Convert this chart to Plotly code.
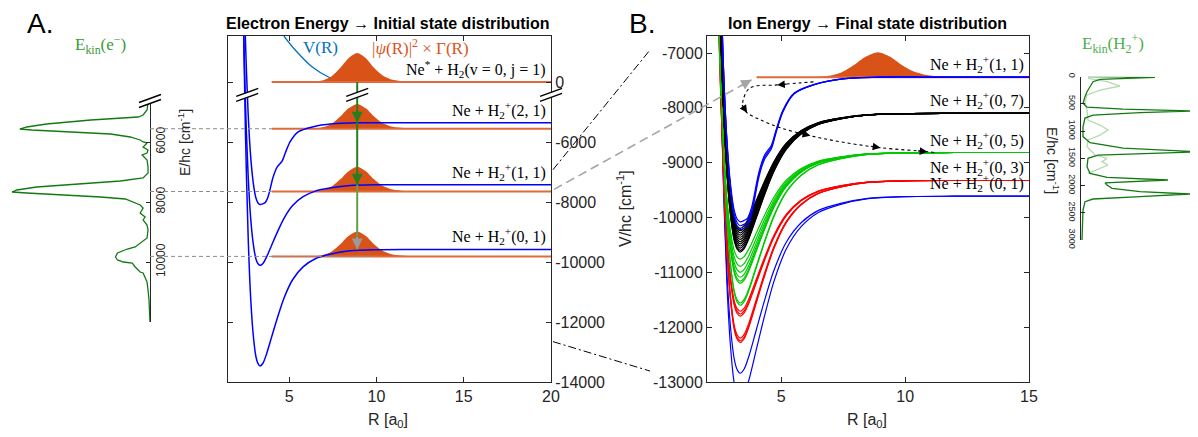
import plotly.graph_objects as go

W, H = 1198, 437
OX, OY = 8, 8                 # page body margin of the browser
FW, FH = W - OX, H - OY       # figure size actually drawn

# ------------------------------------------------------------------ data
# normalised potential-well profiles (R in a0, V/depth)
PROFILE_R_WIDE = [2.2, 2.35, 2.5, 2.65, 2.8, 2.95, 3.1, 3.22, 3.34, 3.5, 3.7, 4.0, 4.3, 4.7,
                  5.2, 5.8, 6.5, 7.4, 8.5, 10.0, 12.0, 20.0]
PROFILE_WIDE = [4.34, 2.35, 1.0, 0.13, -0.42, -0.74, -0.92, -0.98, -1.0, -0.976, -0.90, -0.75,
                -0.60, -0.42, -0.26, -0.15, -0.08, -0.04, -0.012, -0.002, 0.0, 0.0]
PROFILE_R_NARROW = [2.2, 2.35, 2.5, 2.65, 2.8, 2.95, 3.1, 3.22, 3.34, 3.5, 3.63, 3.8, 4.09, 4.32,
                    4.6, 4.78, 5.06, 5.52, 6.33, 7.48, 9.0, 12.0, 20.0]
PROFILE_NARROW = [4.34, 2.35, 1.0, 0.13, -0.42, -0.74, -0.92, -0.98, -1.0, -0.99, -0.975, -0.90,
                  -0.66, -0.54, -0.47, -0.37, -0.23, -0.11, -0.05, -0.012, 0.0, 0.0, 0.0]

# |psi(R)|^2 x Gamma(R) profile (fraction of peak)
GAUSS_R = [4.0, 6.0, 6.6, 7.0, 7.4, 7.95, 8.4, 8.9, 9.4, 9.85, 10.3, 10.8, 11.4, 12.2, 13.5, 20.0]
GAUSS_F = [0, 0, 0.02, 0.07, 0.18, 0.5, 0.82, 1.0, 0.82, 0.5, 0.25, 0.1, 0.035, 0.008, 0, 0]

# Panel A : electron energy -> initial state distribution (cm^-1)
A_NEUTRAL_LABEL = "Ne<sup>*</sup> + H<sub>2</sub>(v = 0, j = 1)"
A_ION_LABELS = ["Ne + H<sub>2</sub><sup>+</sup>(2, 1)", "Ne + H<sub>2</sub><sup>+</sup>(1, 1)",
                "Ne + H<sub>2</sub><sup>+</sup>(0, 1)"]
A_ION_ASYM = [-5333, -7400, -9567]
A_ION_MIN = [-8067, -10100, -13467]
A_ION_SHAPE = ["narrow", "wide", "wide"]
A_BASELINES = [0, -5530, -7630, -9800]
A_GAUSS_PEAK = [970, 830, 830, 830]
V_R = [4.7, 5.35, 6.33, 7.25, 7.82, 8.5, 10.0, 20.0]
V_E = [1540, 1070, 500, 170, 70, 0, 0, 0]
ARROW_R = 8.9
A_XTICKS = [5, 10, 15, 20]
A_YTICKS = [0, -6000, -8000, -10000, -12000, -14000]

# left spectrum: electron kinetic energy
EKIN_E = [4700, 4933, 5100, 5167, 5267, 5400, 5500, 5567, 5600, 5667, 5733, 5833, 5933, 6000,
          6033, 6167, 6267, 6367, 6433, 6600, 6833, 7033, 7200, 7300, 7400, 7500, 7600, 7667,
          7700, 7767, 7833, 7900, 8033, 8100, 8200, 8367, 8500, 8600, 8767, 8933, 9200, 9367,
          9500, 9567, 9700, 9833, 9933, 10000, 10033, 10167, 10333, 10367, 10667, 10933, 11267,
          12000]
EKIN_I = [2, 3, 7, 12, 60, 105, 125, 132, 120, 80, 40, 20, 10, 7, 3, 7, 2, 3, 8, 3, 2, 2, 7, 30,
          75, 115, 135, 140, 125, 85, 50, 25, 15, 10, 7, 10, 5, 7, 3, 2, 3, 10, 15, 23, 33, 35,
          33, 27, 18, 15, 10, 7, 3, 2, 1, 0]
EKIN_TICKS = [6000, 8000, 10000]

# right spectrum: H2+ kinetic energy
EH2_E = [0, 11, 48, 92, 184, 276, 367, 487, 560, 597, 630, 661, 704, 760, 920, 1100, 1212, 1312,
         1380, 1408, 1440, 1500, 1653, 1776, 1849, 1898, 1950, 1990, 2050, 2113, 2155, 2204,
         2247, 2296, 2450, 3000]
EH2_I = [7, 74, 19, 12, 9, 6, 4, 2, 6, 42, 112, 59, 12, 4, 2, 2, 9, 42, 116, 59, 17, 7, 6, 9, 26,
         87, 24, 26, 31, 59, 109, 59, 12, 4, 2, 1]
EH2L_E = [30, 92, 171, 245, 336, 459, 612, 796, 888, 980, 1072, 1163, 1286, 1439, 1500, 1561,
          1622, 1714, 1776]
EH2L_I = [7, 26, 39, 19, 6, 4, 6, 7, 19, 27, 19, 7, 6, 14, 26, 21, 27, 16, 7]
EH2_TICKS = [0, 500, 1000, 1500, 2000, 2500, 3000]

# Panel B : ion energy -> final state distribution
B_LABELS = ["Ne + H<sub>2</sub><sup>+</sup>(1, 1)", "Ne + H<sub>2</sub><sup>+</sup>(0, 7)",
            "Ne + H<sub>2</sub><sup>+</sup>(0, 5)", "Ne + H<sub>2</sub><sup>+</sup>(0, 3)",
            "Ne + H<sub>2</sub><sup>+</sup>(0, 1)"]
B_ASYM = [-7440, -8100, -8815, -9325, -9612]
B_COLORS = ["#0000FF", "#000000", "#00C800", "#FF0000", "#0000FF"]
B_SHAPE = ["narrow", "wide", "wide", "wide", "wide"]
B_MINIMA = [
    [-10080, -10150, -10220],
    [-10200, -10240, -10280, -10320, -10360, -10400, -10440, -10480, -10520, -10560, -10600, -10630],
    [-10760, -10890, -11000, -11090, -11160, -11200, -11560, -11600],
    [-11710, -11760, -11800, -12200, -12250, -12280],
    [-12840, -13320],
]
B_ORANGE = -7440
B_GAUSS_PEAK = 455
PATH_R = [6.3, 5.77, 4.83, 3.74, 3.46, 3.46, 3.62, 4.15, 4.96, 6.17, 7.38, 9.0, 10.9, 11.2]
PATH_E = [-7527, -7545, -7582, -7636, -7855, -7982, -8091, -8218, -8364, -8509, -8618, -8727,
          -8800, -8818]
PATH_ARROW_IDX = [2, 6, 9, 11, 12]
B_XTICKS = [5, 10, 15]
B_YTICKS = [-7000, -8000, -9000, -10000, -11000, -12000, -13000]


# ------------------------------------------------------------------ layout geometry
def PX(x):
    return (x - OX) / FW


def PY(y):
    return 1 - (y - OY) / FH


def SX(p):
    return p * FW + OX


def SY(p):
    return (1 - p) * FH + OY


A_ZERO_POS = -3970          # where the broken-axis "0" sits on panel A
XA = dict(domain=[PX(228), PX(551)], range=[1.5, 20])
YA = dict(domain=[PY(382), PY(36)], range=[-14000, -2430])
XB = dict(domain=[PX(707), PX(1029)], range=[2, 15])
YB = dict(domain=[PY(382), PY(36)], range=[-13000, -6690])
XL = dict(domain=[PX(10), PX(150)], range=[142, 0])
YL = dict(domain=[PY(322), PY(103)], range=[12000, 4700])
XR = dict(domain=[PX(1081), 1.0], range=[0, 117])
YR = dict(domain=[PY(240), PY(76.7)], range=[3000, 0])

ORANGE = "#D95319"
ORANGE_LINE = "#E06A3A"
DARK_GREEN = "#267F1A"
LIGHT_GREEN = "#62A043"
TXT = "#262626"
SERIF = "Liberation Serif"
SANS = "Liberation Sans"


def paper(ax, v):
    d, r = ax["domain"], ax["range"]
    return d[0] + (v - r[0]) / (r[1] - r[0]) * (d[1] - d[0])


def a_pos(e):
    return e + A_ZERO_POS if e > -3000 else e


PROFILES = {"wide": (PROFILE_R_WIDE, PROFILE_WIDE), "narrow": (PROFILE_R_NARROW, PROFILE_NARROW)}

fig = go.Figure()


def add(x, y, xa, ya, **kw):
    fig.add_trace(go.Scatter(x=x, y=y, xaxis=xa, yaxis=ya, mode="lines", hoverinfo="skip",
                             showlegend=False, **kw))


# ---------------- panel A
add(V_R, [a_pos(e) for e in V_E], "x", "y",
    line=dict(color="#0072BD", width=1.3, shape="spline", smoothing=0.8))
for base, peak in zip(A_BASELINES, A_GAUSS_PEAK):
    b = a_pos(base)
    add(GAUSS_R, [b + peak * f for f in GAUSS_F], "x", "y", fill="toself", fillcolor=ORANGE,
        line=dict(width=0, color=ORANGE, shape="spline", smoothing=0.7))
    add([4.0, 20.0], [b, b], "x", "y", line=dict(color=ORANGE_LINE, width=2))
for asym, mn, shp in zip(A_ION_ASYM, A_ION_MIN, A_ION_SHAPE):
    rr, pp = PROFILES[shp]
    add(rr, [asym + (asym - mn) * f for f in pp], "x", "y",
        line=dict(color="#0000FF", width=1.5, shape="spline", smoothing=0.8))
add([ARROW_R, ARROW_R], [a_pos(0), A_ION_ASYM[1]], "x", "y",
    line=dict(color=DARK_GREEN, width=2))
add([ARROW_R, ARROW_R], [A_ION_ASYM[1], A_ION_ASYM[2]], "x", "y",
    line=dict(color=LIGHT_GREEN, width=2))

# ---------------- panel B
add(GAUSS_R, [B_ORANGE + B_GAUSS_PEAK * f for f in GAUSS_F], "x2", "y2", fill="toself",
    fillcolor=ORANGE, line=dict(width=0, color=ORANGE, shape="spline", smoothing=0.7))
add([4.0, 15.0], [B_ORANGE, B_ORANGE], "x2", "y2", line=dict(color=ORANGE_LINE, width=2))
for i in [4, 3, 2, 1, 0]:
    rr, pp = PROFILES[B_SHAPE[i]]
    for mn in B_MINIMA[i]:
        add(rr, [B_ASYM[i] + (B_ASYM[i] - mn) * f for f in pp], "x2", "y2",
            line=dict(color=B_COLORS[i], width=1.2, shape="spline", smoothing=0.8))
add(PATH_R, PATH_E, "x2", "y2",
    line=dict(color="black", width=1.1, dash="dot", shape="spline", smoothing=1.0))

# ---------------- spectra
add(EKIN_I, EKIN_E, "x3", "y3", line=dict(color="#137A13", width=1.3))
add(EH2L_I, EH2L_E, "x4", "y4", line=dict(color="#B4DBAE", width=1.3))
add(EH2_I, EH2_E, "x4", "y4", line=dict(color="#137A13", width=1.3))

# ------------------------------------------------------------------ axes
common = dict(showgrid=False, zeroline=False, showline=True, linecolor=TXT, linewidth=1,
              ticks="inside", ticklen=5, tickcolor=TXT, automargin=False,
              tickfont=dict(family=SANS, size=16, color=TXT))
fig.update_layout(
    xaxis=dict(**common, domain=XA["domain"], range=XA["range"], anchor="y", mirror="ticks",
               tickvals=A_XTICKS),
    yaxis=dict(**common, domain=YA["domain"], range=YA["range"], anchor="x", side="right",
               mirror="ticks", tickvals=[a_pos(v) for v in A_YTICKS],
               ticktext=[str(v) for v in A_YTICKS]),
    xaxis2=dict(**common, domain=XB["domain"], range=XB["range"], anchor="y2", mirror="ticks",
                tickvals=B_XTICKS),
    yaxis2=dict(**common, domain=YB["domain"], range=YB["range"], anchor="x2", mirror="ticks",
                tickvals=B_YTICKS, ticktext=[str(v) for v in B_YTICKS]),
    xaxis3=dict(domain=XL["domain"], range=XL["range"], anchor="y3", visible=False),
    yaxis3=dict(showgrid=False, zeroline=False, showline=True, linecolor=TXT, linewidth=1,
                ticks="inside", ticklen=4, tickcolor=TXT, automargin=False,
                domain=YL["domain"], range=YL["range"], anchor="x3", side="right",
                tickvals=EKIN_TICKS, ticktext=[str(v) for v in EKIN_TICKS], tickangle=-90,
                tickfont=dict(family=SANS, size=12, color=TXT)),
    xaxis4=dict(domain=XR["domain"], range=XR["range"], anchor="y4", visible=False),
    yaxis4=dict(showgrid=False, zeroline=False, showline=True, linecolor=TXT, linewidth=1,
                ticks="inside", ticklen=4, tickcolor=TXT, automargin=False,
                domain=YR["domain"], range=YR["range"], anchor="x4", side="left",
                tickvals=EH2_TICKS, ticktext=[str(v) for v in EH2_TICKS], tickangle=90,
                tickfont=dict(family=SANS, size=9, color=TXT)),
)

# ------------------------------------------------------------------ shapes
shapes = []


def break_mark(cx, cy):
    pts = [(cx - 11, cy + 1.5), (cx + 11, cy - 6.5), (cx + 11, cy - 1.5), (cx - 11, cy + 6.5)]
    path = "M " + " L ".join(f"{PX(x):.5f},{PY(y):.5f}" for x, y in pts) + " Z"
    shapes.append(dict(type="path", path=path, xref="paper", yref="paper",
                       fillcolor="white", line=dict(width=0)))
    for (x0, y0), (x1, y1) in [(pts[0], pts[1]), (pts[3], pts[2])]:
        shapes.append(dict(type="line", xref="paper", yref="paper", x0=PX(x0), y0=PY(y0),
                           x1=PX(x1), y1=PY(y1), line=dict(color="black", width=1.4)))


def to_px(xa, xv, ya, yv):
    return SX(paper(xa, xv)), SY(paper(ya, yv))


brk_y = -4400
for xv in [2.6, ARROW_R, 20]:
    break_mark(*to_px(XA, xv, YA, brk_y))
break_mark(150, 101)

# dashed connectors spectrum -> levels
for base, xend in zip(A_BASELINES[1:], [4.0, 4.0, 9.7]):
    shapes.append(dict(type="line", xref="paper", yref="y", x0=PX(150), x1=paper(XA, xend),
                       y0=base, y1=base, line=dict(color="#8C8C8C", width=1, dash="4px,3px")))

# zoom indicator (dash-dot)
for ya_v, yb_v in [(-6900, -6945), (-12650, -12800)]:
    shapes.append(dict(type="line", xref="paper", yref="paper",
                       x0=paper(XA, 20) + 2 / FW, y0=paper(YA, ya_v),
                       x1=PX(650), y1=paper(YB, yb_v),
                       line=dict(color="black", width=1, dash="8px,3px,2px,3px")))

# grey dashed arrow from panel A (1,1) level to panel B
tx, ty = paper(XB, 3.8), paper(YB, -7490)
sx, sy = paper(XA, 20) + 3 / FW, paper(YA, -7560)
shapes.append(dict(type="line", xref="paper", yref="paper", x0=sx, y0=sy, x1=tx, y1=ty,
                   line=dict(color="#A6A6A6", width=1.6, dash="9px,5px")))
fig.update_layout(shapes=shapes)

# ------------------------------------------------------------------ annotations
ann = []


def head(x, y, xref, yref, ax, ay, color, width=1.5, size=1.3):
    ann.append(dict(x=x, y=y, xref=xref, yref=yref, ax=ax, ay=ay, axref="pixel", ayref="pixel",
                    text="", showarrow=True, arrowhead=2, arrowsize=size, arrowwidth=width,
                    arrowcolor=color))


head(ARROW_R, A_ION_ASYM[0], "x", "y", 0, -14, DARK_GREEN, 2, 1.1)
head(ARROW_R, A_ION_ASYM[1], "x", "y", 0, -14, DARK_GREEN, 2, 1.1)
head(ARROW_R, A_ION_ASYM[2], "x", "y", 0, -14, "#9A9A9A", 2, 1.1)

# path arrowheads in panel B
for i in PATH_ARROW_IDX:
    x1, y1 = to_px(XB, PATH_R[i], YB, PATH_E[i])
    x0, y0 = to_px(XB, PATH_R[i - 1], YB, PATH_E[i - 1])
    dx, dy = x1 - x0, y1 - y0
    n = (dx * dx + dy * dy) ** 0.5
    head(PATH_R[i], PATH_E[i], "x2", "y2", -dx / n * 11, -dy / n * 11, "black", 1.1, 1.4)

# grey arrow head
gx1, gy1 = SX(tx), SY(ty)
gx0, gy0 = SX(sx), SY(sy)
dx, dy = gx1 - gx0, gy1 - gy0
n = (dx * dx + dy * dy) ** 0.5
head(tx, ty, "paper", "paper", -dx / n * 14, -dy / n * 14, "#A6A6A6", 1.6, 1.3)


def text(x, y, s, size=16, color="black", family=SERIF, xanchor="center", yanchor="middle",
         xref="paper", yref="paper", angle=0, yshift=0):
    if xref == "paper":
        x = PX(x)
    if yref == "paper":
        y = PY(y)
    ann.append(dict(x=x, y=y, xref=xref, yref=yref, text=s, showarrow=False, xanchor=xanchor,
                    yanchor=yanchor, textangle=angle, yshift=yshift,
                    font=dict(family=family, size=size, color=color)))


# titles and panel letters
text(388, 24, "<b>Electron Energy → Initial state distribution</b>", 16, "black", SANS)
text(867, 24, "<b>Ion Energy → Final state distribution</b>", 16, "black", SANS)
text(40, 23, "A.", 28, "black", SANS)
text(642, 23, "B.", 28, "black", SANS)

# axis titles
text(388, 420, "R [a<sub>0</sub>]", 16, TXT, SANS)
text(867, 420, "R [a<sub>0</sub>]", 16, TXT, SANS)
text(624, 209, "V/hc [cm<sup>-1</sup>]", 16, TXT, SANS, angle=-90)
text(184, 143, "E/hc [cm<sup>-1</sup>]", 14, TXT, SANS, angle=-90)
text(1053, 160, "E/hc [cm<sup>-1</sup>]", 14, TXT, SANS, angle=90)

# spectrum labels
text(100, 44, "E<sub>kin</sub>(e<sup>−</sup>)", 17, "#3A9A3A")
text(1113, 43, "E<sub>kin</sub>(H<sub>2</sub><sup>+</sup>)", 17, "#4CAF4C")

# panel A labels
text(320, 47, "V(R)", 17, "#0072BD")
text(420, 47, "|<i>ψ</i>(R)|<sup>2</sup> × Γ(R)", 17, ORANGE)
text(19.83, a_pos(0), A_NEUTRAL_LABEL, 16, "black", xanchor="right", yanchor="bottom",
     xref="x", yref="y", yshift=0)
for lab, lev in zip(A_ION_LABELS, A_ION_ASYM):
    text(19.83, lev, lab, 16, "black", xanchor="right", yanchor="bottom", xref="x", yref="y",
         yshift=0)

# panel B labels
for lab, lev in zip(B_LABELS, B_ASYM):
    text(14.87, lev, lab, 16, "black", xanchor="right", yanchor="bottom", xref="x2", yref="y2",
         yshift=0)

fig.update_layout(annotations=ann, width=FW, height=FH, margin=dict(l=0, r=0, t=0, b=0),
                  autosize=False, plot_bgcolor="rgba(0,0,0,0)", paper_bgcolor="white",
                  font=dict(family=SANS, color=TXT), showlegend=False, template="none")

fig.write_html("out.html")
